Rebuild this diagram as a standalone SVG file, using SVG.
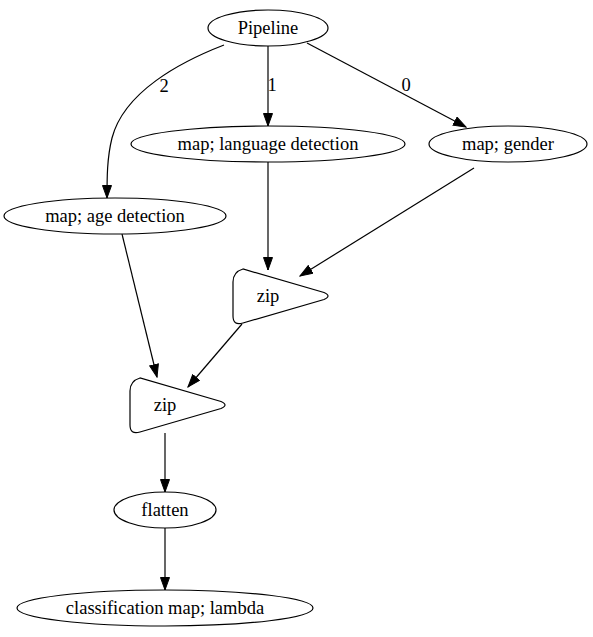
<svg xmlns="http://www.w3.org/2000/svg" width="593" height="637" viewBox="0 0 593 637">
<style>
.n{fill:#fff;stroke:#000;stroke-width:1.2}
.t{font-family:"Liberation Serif","Times New Roman",serif;font-size:18.5px;text-anchor:middle;fill:#000}
.e{fill:none;stroke:#000;stroke-width:1.2}
</style>
<defs>
<marker id="a" markerWidth="14" markerHeight="10" refX="13" refY="5" orient="auto" markerUnits="userSpaceOnUse">
<path d="M0.5,0.5 L13,5 L0.5,9.5 Z" fill="#000" stroke="#000" stroke-width="1"/>
</marker>
<path id="tri" d="M233,282 Q233,272 243,269 L324,292.5 Q332,296 324,299.5 L243,323 Q233,326 233,316 Z"/>
</defs>
<rect width="593" height="637" fill="#fff"/>
<g id="edges">
<path class="e" d="M268,46 L268,126" marker-end="url(#a)"/>
<text class="t" x="272" y="91">1</text>
<path class="e" d="M307,43 L466,127" marker-end="url(#a)"/>
<text class="t" x="406" y="91">0</text>
<path class="e" d="M224,45 C180,62 124,92 112,138 C107,158 107,178 107,198" marker-end="url(#a)"/>
<text class="t" x="164" y="92">2</text>
<path class="e" d="M268,162 L268,270" marker-end="url(#a)"/>
<path class="e" d="M474,168 L300,276" marker-end="url(#a)"/>
<path class="e" d="M122,234 L157,377" marker-end="url(#a)"/>
<path class="e" d="M242,324 L188,387" marker-end="url(#a)"/>
<path class="e" d="M165,433 L165,492" marker-end="url(#a)"/>
<path class="e" d="M165,528 L165,590" marker-end="url(#a)"/>
</g>
<g id="pipeline"><ellipse class="n" cx="268" cy="28" rx="60" ry="18"/><text class="t" x="268" y="34">Pipeline</text></g>
<g id="lang"><ellipse class="n" cx="268" cy="144" rx="137" ry="18"/><text class="t" x="268" y="150">map; language detection</text></g>
<g id="gender"><ellipse class="n" cx="508" cy="144" rx="79" ry="18"/><text class="t" x="508" y="150">map; gender</text></g>
<g id="age"><ellipse class="n" cx="115" cy="216" rx="111" ry="18"/><text class="t" x="115" y="222">map; age detection</text></g>
<g id="zip1"><use href="#tri" class="n"/><text class="t" x="268" y="302">zip</text></g>
<g id="zip2"><use href="#tri" class="n" transform="translate(-103,109)"/><text class="t" x="165" y="411">zip</text></g>
<g id="flatten"><ellipse class="n" cx="165" cy="510" rx="51" ry="18"/><text class="t" x="165" y="516">flatten</text></g>
<g id="classification"><ellipse class="n" cx="165" cy="608" rx="148" ry="18"/><text class="t" x="165" y="614">classification map; lambda</text></g>
</svg>
